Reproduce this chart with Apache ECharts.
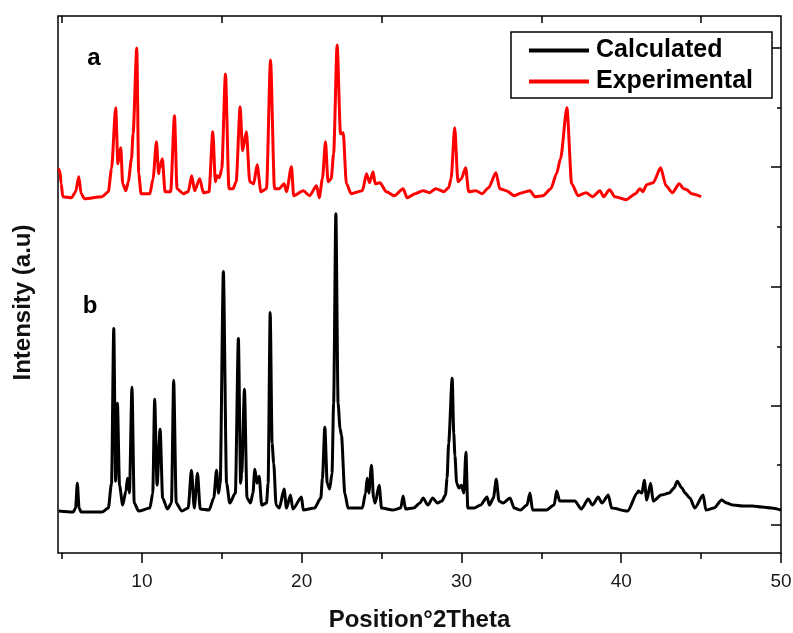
<!DOCTYPE html>
<html>
<head>
<meta charset="utf-8">
<script src="https://cdn.jsdelivr.net/npm/echarts@6/dist/echarts.min.js"></script>
<style>
html,body{margin:0;padding:0;background:#fff;}
#chart{width:793px;height:633px;}
</style>
</head>
<body>
<div id="chart"></div>
<script>
// ---- data ----
const seriesNames = ['Calculated', 'Experimental'];
const xTickMajor = [10, 20, 30, 40, 50];
const xTickMinor = [5, 15, 25, 35, 45];
const xTickLabels = ['10', '20', '30', '40', '50'];
const yTickMajor = [28, 148, 267, 387, 506];
const yTickMinor = [88, 207, 327, 446];

// Calculated pattern (b): 2theta, intensity (a.u.)
const calcTheta = [4.8,5.7,5.85,5.96,6.07,6.2,7.5,7.9,8.1,8.24,8.36,8.47,8.6,8.8,9.0,9.1,9.22,9.38,9.52,9.8,
10.5,10.68,10.8,10.95,11.14,11.3,11.6,11.85,11.99,12.15,12.5,12.9,13.1,13.28,13.48,13.65,14.2,14.5,14.67,14.8,
14.9,15.1,15.3,15.5,15.85,16.04,16.18,16.25,16.42,16.58,16.8,16.95,17.07,17.2,17.34,17.5,17.8,17.9,18.03,18.15,
18.25,18.4,18.6,18.9,19.05,19.3,19.45,19.99,20.1,20.8,21.2,21.3,21.45,21.6,21.75,21.9,22.0,22.14,22.28,22.4,
22.49,22.7,22.9,23.8,24.0,24.1,24.2,24.37,24.5,24.6,24.85,25.0,25.7,26.2,26.35,26.5,27.0,27.4,27.6,27.9,
28.2,28.5,28.77,29.0,29.1,29.2,29.42,29.52,29.59,29.7,29.85,30.0,30.15,30.28,30.4,30.8,31.2,31.6,31.75,32.0,
32.18,32.35,32.6,33.04,33.3,33.7,34.1,34.29,34.45,35.3,35.8,35.96,36.15,36.6,37.1,37.5,37.94,38.2,38.56,38.8,
39.19,39.4,40.4,41.0,41.07,41.3,41.44,41.6,41.84,42.0,42.5,43.0,43.3,43.51,43.8,44.0,44.3,44.6,45.13,45.3,
45.8,46.29,46.6,47.0,47.6,48.2,48.8,49.4,50.0];
const calcIntensity = [42,41,45,70,45,41,41,45,70,225,72,150,68,48,62,75,60,166,50,42,
45,60,154,68,124,55,44,50,173,50,42,45,83,45,80,44,43,55,83,60,
70,282,70,50,60,215,70,80,164,55,50,60,84,70,77,48,50,70,241,110,
90,48,45,64,45,58,44,56,43,45,55,75,126,70,64,80,150,340,150,125,
118,60,45,45,60,75,60,88,55,50,68,45,43,45,57,44,45,50,55,48,
55,50,52,58,75,110,175,120,98,70,65,68,60,101,45,45,48,56,48,55,
74,52,50,55,45,43,48,60,43,43,48,62,52,52,52,44,54,48,56,50,
58,45,42,60,62,60,73,53,70,52,58,60,65,72,65,60,55,45,58,43,
45,53,50,48,47,47,46,45,43];

// Experimental pattern (a): 2theta, intensity (a.u.)
const expTheta = [4.78,4.86,4.95,5.05,5.6,5.85,6.05,6.2,6.4,7.5,7.9,8.1,8.36,8.5,8.6,8.68,8.8,9.0,9.15,9.35,
9.45,9.68,9.8,9.95,10.5,10.7,10.91,11.05,11.1,11.28,11.45,11.8,12.04,12.2,12.6,12.9,13.12,13.3,13.62,13.85,
14.2,14.44,14.6,14.7,14.85,15.0,15.23,15.45,15.7,15.9,16.15,16.3,16.54,16.75,17.0,17.21,17.45,17.8,18.05,18.3,
18.6,18.9,19.05,19.36,19.5,20.1,20.5,20.93,21.1,21.3,21.49,21.65,21.85,22.0,22.22,22.43,22.6,22.8,23.1,23.8,
24.06,24.25,24.47,24.6,24.9,25.3,25.8,26.35,26.6,27.1,27.6,28.0,28.4,28.9,29.2,29.35,29.58,29.78,30.0,30.26,
30.45,30.9,31.3,31.7,32.16,32.4,32.8,33.3,33.8,34.29,34.6,35.1,35.6,35.95,36.2,36.6,36.9,37.3,37.8,38.2,
38.67,38.9,39.27,39.6,40.3,40.9,41.17,41.35,41.6,42.0,42.47,42.8,43.2,43.63,43.9,44.1,44.4,45.0];
const expIntensity = [385,383,370,357,356,362,377,360,355,357,362,385,446,390,400,406,370,363,372,395,
420,506,380,360,360,375,412,380,385,395,362,362,438,365,360,362,378,363,375,361,
362,422,372,378,376,385,480,365,365,372,447,403,422,372,370,389,362,365,494,365,
365,370,362,387,358,363,358,368,356,375,412,372,375,400,509,420,421,370,360,363,
380,371,382,370,371,362,358,365,356,360,363,361,365,362,366,375,426,372,375,386,
362,363,360,366,381,365,363,358,361,363,357,358,365,380,395,446,370,358,361,357,
363,357,364,357,354,360,365,362,369,371,386,368,361,370,365,364,360,357];

// ---- chart ----
const FONT = "'Liberation Sans', Arial, Helvetica, sans-serif";
const pairs = (xs, ys) => xs.map((x, i) => [x, ys[i]]);

const X_MIN = 4.75, X_MAX = 50, Y_MIN = 0, Y_MAX = 538;

function tickAxis(pos, values, len, inside, extra) {
  return Object.assign({
    type: 'value', position: pos, min: pos === 'top' || pos === 'bottom' ? X_MIN : Y_MIN,
    max: pos === 'top' || pos === 'bottom' ? X_MAX : Y_MAX,
    axisLine: { show: false },
    axisTick: { show: true, inside: inside, length: len, customValues: values,
      lineStyle: { color: '#000', width: 1.5 } },
    axisLabel: { show: false },
    splitLine: { show: false }
  }, extra || {});
}

const chart = echarts.init(document.getElementById('chart'), null, { renderer: 'canvas' });
chart.setOption({
  animation: false,
  backgroundColor: '#fff',
  grid: { left: 58, right: 12, top: 16, bottom: 80, show: true, containLabel: false,
    outerBoundsMode: 'none',
    borderColor: '#000', borderWidth: 1.5, backgroundColor: 'transparent' },
  legend: {
    data: seriesNames, orient: 'vertical', left: 511, top: 32,
    itemWidth: 60, itemHeight: 4, itemGap: 6, icon: 'rect',
    padding: [6, 19, 4, 18],
    borderColor: '#000', borderWidth: 1.5, backgroundColor: '#fff',
    selectedMode: false,
    textStyle: { fontFamily: FONT, fontSize: 25, fontWeight: 'bold', color: '#000', padding: [0, 0, 0, 2] }
  },
  xAxis: [
    tickAxis('bottom', xTickMajor, 10, false, {
      axisLabel: { show: true, customValues: xTickMajor, margin: 19,
        formatter: v => xTickLabels[xTickMajor.indexOf(v)],
        fontFamily: FONT, fontSize: 19, color: '#1a1a1a' },
      name: 'Position°2Theta', nameLocation: 'middle', nameGap: 55,
      nameTextStyle: { fontFamily: FONT, fontSize: 24, fontWeight: 'bold', color: '#111' }
    }),
    tickAxis('bottom', xTickMinor, 6, false),
    tickAxis('top', xTickMajor, 10, true),
    tickAxis('top', xTickMinor, 7, true)
  ],
  yAxis: [
    tickAxis('left', [], 0, false, {
      axisTick: { show: false },
      name: 'Intensity (a.u)', nameLocation: 'middle', nameGap: 23, nameRotate: 90,
      nameTextStyle: { fontFamily: FONT, fontSize: 24, fontWeight: 'bold', color: '#111',
        padding: [0, 36, 0, 0] }
    }),
    tickAxis('right', yTickMajor, 10, true),
    tickAxis('right', yTickMinor, 4, true)
  ],
  series: [
    { name: seriesNames[0], type: 'line', xAxisIndex: 0, yAxisIndex: 0,
      data: pairs(calcTheta, calcIntensity), showSymbol: false, symbol: 'none',
      smooth: 0.25, smoothMonotone: 'x', color: '#000',
      lineStyle: { color: '#000', width: 3, join: 'round' } },
    { name: seriesNames[1], type: 'line', xAxisIndex: 0, yAxisIndex: 0,
      data: pairs(expTheta, expIntensity), showSymbol: false, symbol: 'none',
      smooth: 0.25, smoothMonotone: 'x', color: '#ff0000',
      lineStyle: { color: '#ff0000', width: 3, join: 'round' } }
  ],
  graphic: [
    { type: 'text', x: 94, y: 58, style: { text: 'a', align: 'center', verticalAlign: 'middle',
      font: "bold 24px " + FONT, fill: '#000' } },
    { type: 'text', x: 90, y: 306, style: { text: 'b', align: 'center', verticalAlign: 'middle',
      font: "bold 24px " + FONT, fill: '#000' } }
  ]
});
</script>
</body>
</html>
